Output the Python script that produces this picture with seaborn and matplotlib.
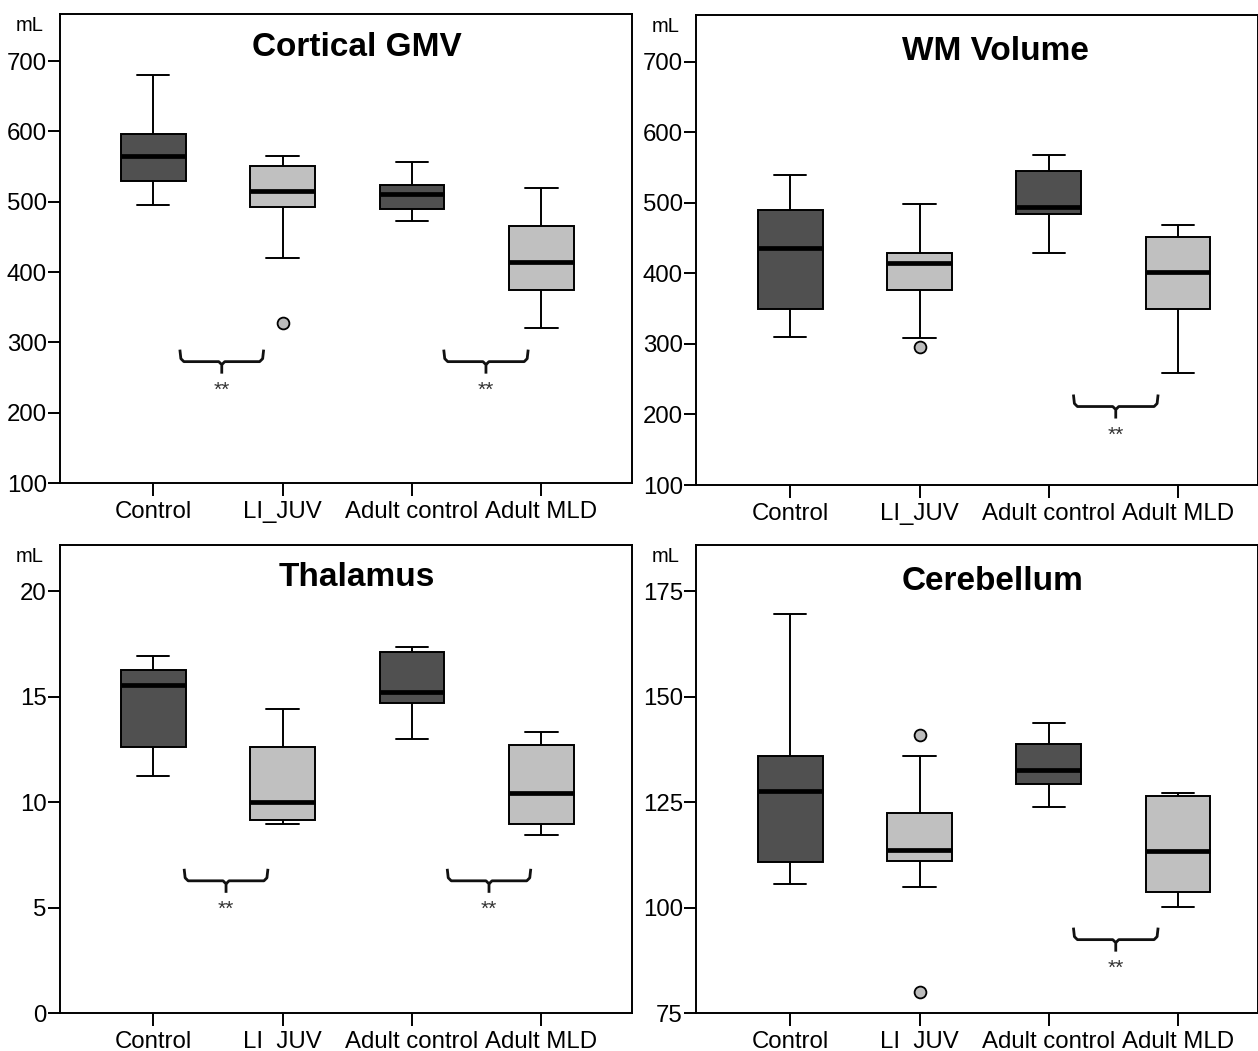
import numpy as np
import pandas as pd
import matplotlib
matplotlib.use("Agg")
import matplotlib.pyplot as plt
import seaborn as sns

# ---------------- data ----------------
GROUPS = ["Control", "LI_JUV", "Adult control", "Adult MLD"]

# five-number summaries per group: [lower whisker, Q1, median, Q3, upper whisker]
GMV_BOXES = [[495, 530, 565, 596, 680],
             [420, 492, 515, 551, 565],
             [472, 489, 511, 524, 556],
             [320, 375, 414, 466, 519]]
GMV_OUT_GROUPS = ["LI_JUV"]
GMV_OUT_VALUES = [328]

WM_BOXES = [[310, 350, 436, 490, 539],
            [309, 377, 414, 429, 498],
            [429, 484, 494, 545, 568],
            [258, 350, 402, 451, 468]]
WM_OUT_GROUPS = ["LI_JUV"]
WM_OUT_VALUES = [296]

THAL_BOXES = [[11.24, 12.64, 15.55, 16.27, 16.95],
              [8.97, 9.17, 9.99, 12.63, 14.40],
              [12.99, 14.70, 15.25, 17.14, 17.38],
              [8.43, 8.95, 10.42, 12.69, 13.34]]
THAL_OUT_GROUPS = []
THAL_OUT_VALUES = []

CEREB_BOXES = [[105.7, 110.9, 127.7, 136.0, 169.7],
               [104.8, 111.1, 113.7, 122.4, 135.9],
               [123.9, 129.2, 132.6, 138.7, 143.9],
               [100.2, 103.6, 113.5, 126.5, 127.2]]
CEREB_OUT_GROUPS = ["LI_JUV", "LI_JUV"]
CEREB_OUT_VALUES = [141, 80]

TITLES = ["Cortical GMV", "WM Volume", "Thalamus", "Cerebellum"]
YTICKS_GMV = [100, 200, 300, 400, 500, 600, 700]
YTICKS_WM = [100, 200, 300, 400, 500, 600, 700]
YTICKS_THAL = [0, 5, 10, 15, 20]
YTICKS_CEREB = [75, 100, 125, 150, 175]

# ---------------- style ----------------
W, H = 1258, 1051
DARK = "#505050"
LIGHT = "#c0c0c0"
OUT_FILL = "#bcbcbc"

sns.set_style("ticks")
plt.rcParams["font.family"] = ["Liberation Sans", "DejaVu Sans"]
plt.rcParams["text.color"] = "black"
plt.rcParams["axes.labelcolor"] = "black"
plt.rcParams["axes.linewidth"] = 1.4
plt.rcParams["xtick.major.width"] = 1.4
plt.rcParams["ytick.major.width"] = 1.4
plt.rcParams["xtick.color"] = "black"
plt.rcParams["ytick.color"] = "black"
plt.rcParams["xtick.labelcolor"] = "black"
plt.rcParams["ytick.labelcolor"] = "black"
plt.rcParams["axes.edgecolor"] = "black"

fig = plt.figure(figsize=(W / 100, H / 100), dpi=100)


def px_rect(l, t, r, b):
    return [l / W, 1 - b / H, (r - l) / W, (b - t) / H]


panels = [
    dict(rect=(60, 14, 632, 483), boxes=GMV_BOXES, og=GMV_OUT_GROUPS, ov=GMV_OUT_VALUES,
         ylim=(100, 767), yticks=YTICKS_GMV, xlim=(-0.72, 3.70), title_x=0.519, title_dy=34,
         braces=[(0.214, 0.846, 272.6), (2.253, 2.890, 272.6)]),
    dict(rect=(696, 15, 1258, 485), boxes=WM_BOXES, og=WM_OUT_GROUPS, ov=WM_OUT_VALUES,
         ylim=(100, 766), yticks=YTICKS_WM, xlim=(-0.73, 3.62), title_x=0.532, title_dy=37,
         braces=[(2.199, 2.839, 211.2)]),
    dict(rect=(60, 545, 632, 1013), boxes=THAL_BOXES, og=THAL_OUT_GROUPS, ov=THAL_OUT_VALUES,
         ylim=(0, 22.2), yticks=YTICKS_THAL, xlim=(-0.72, 3.70), title_x=0.519, title_dy=33,
         braces=[(0.247, 0.879, 6.27), (2.28, 2.91, 6.27)]),
    dict(rect=(696, 545, 1258, 1013), boxes=CEREB_BOXES, og=CEREB_OUT_GROUPS, ov=CEREB_OUT_VALUES,
         ylim=(75, 186), yticks=YTICKS_CEREB, xlim=(-0.73, 3.62), title_x=0.528, title_dy=36,
         braces=[(2.199, 2.839, 92.4)]),
]


def draw_brace(ax, x0, x1, yline, wpx, hpx):
    xlo, xhi = ax.get_xlim()
    ylo, yhi = ax.get_ylim()
    px = (xhi - xlo) / wpx
    py = (yhi - ylo) / hpx
    xc = (x0 + x1) / 2
    r = 3
    ax.plot([x0 - 1 * px, x0, x0 + r * px, xc - r * px, xc, xc],
            [yline + 12 * py, yline + r * py, yline, yline, yline - r * py, yline - 12 * py],
            color="#111111", lw=2.0, solid_joinstyle="round", solid_capstyle="butt")
    ax.plot([x1 + 1 * px, x1, x1 - r * px, xc + r * px, xc],
            [yline + 12 * py, yline + r * py, yline, yline, yline - r * py],
            color="#111111", lw=2.0, solid_joinstyle="round", solid_capstyle="butt")
    ax.text(xc, yline - 29 * py, "**", ha="center", va="center", fontsize=15, color="#333333")


for i, p in enumerate(panels):
    l, t, r, b = p["rect"]
    ax = fig.add_axes(px_rect(l, t, r, b))
    wpx, hpx = r - l, b - t

    rows_g, rows_v = [], []
    for g, vals in zip(GROUPS, p["boxes"]):
        rows_g += [g] * len(vals)
        rows_v += list(vals)
    df = pd.DataFrame({"group": rows_g, "value": rows_v})

    sns.boxplot(data=df, x="group", y="value", hue="group", order=GROUPS, hue_order=GROUPS,
                palette=[DARK, LIGHT, DARK, LIGHT], width=0.5, whis=(0, 100),
                showfliers=False, linecolor="black", linewidth=1.4, legend=False,
                medianprops=dict(color="black", linewidth=3.4), ax=ax)

    if len(p["ov"]):
        odf = pd.DataFrame({"group": p["og"], "value": p["ov"]})
        sns.stripplot(data=odf, x="group", y="value", order=GROUPS, jitter=False,
                      color=OUT_FILL, edgecolor="black", linewidth=1.3, size=8.5, ax=ax, zorder=5)

    ax.set_xlim(*p["xlim"])
    ax.set_ylim(*p["ylim"])
    ax.set_yticks(p["yticks"])
    ax.set_yticklabels([str(v) for v in p["yticks"]])
    ax.set_xticks(range(len(GROUPS)))
    ax.set_xticklabels(GROUPS)
    ax.set_xlabel("")
    ax.set_ylabel("")
    for s in ax.spines.values():
        s.set_visible(True)
        s.set_color("black")
        s.set_linewidth(1.4)
    ax.tick_params(axis="y", direction="out", length=9, width=1.4, pad=0.5, labelsize=17.3,
                   colors="black")
    ax.tick_params(axis="x", direction="out", length=9, width=1.4, pad=4, labelsize=17.3,
                   colors="black")

    ax.text(p["title_x"], 1 - p["title_dy"] / hpx, TITLES[i], transform=ax.transAxes,
            ha="center", va="center", fontsize=24, fontweight="bold", color="black")
    ax.annotate("mL", xy=(0, 1), xycoords="axes fraction", xytext=(-12, -8),
                textcoords="offset points", ha="right", va="center", fontsize=14.5,
                color="black")

    for (x0, x1, yl) in p["braces"]:
        draw_brace(ax, x0, x1, yl, wpx, hpx)

fig.savefig("out.png", dpi=100)
